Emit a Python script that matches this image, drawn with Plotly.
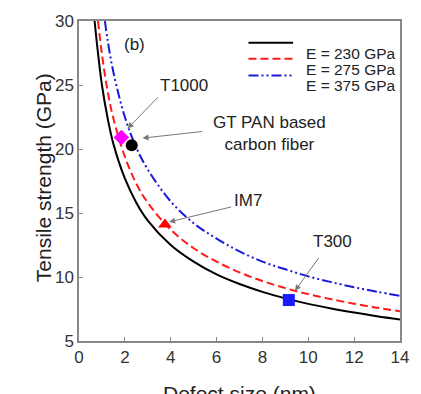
import plotly.graph_objects as go

# Defect size (nm) sample positions and tensile strength (GPa) for each modulus
size_230 = [0.68, 0.8, 1.0, 1.25, 1.5, 2.0, 2.5, 3.0, 4.0, 5.0, 6.0, 7.0, 8.0, 9.0, 10.0, 11.0, 12.0, 13.0, 14.0]
strength_230 = [30.0, 27.95, 25.0, 22.4, 20.4, 17.7, 15.8, 14.4, 12.5, 11.2, 10.2, 9.45, 8.84, 8.33, 7.9, 7.54, 7.22, 6.93, 6.68]

size_275 = [0.83, 1.0, 1.25, 1.5, 2.0, 2.5, 3.0, 4.0, 5.0, 6.0, 7.0, 8.0, 9.0, 10.0, 11.0, 12.0, 13.0, 14.0]
strength_275 = [30.0, 27.4, 24.5, 22.4, 19.4, 17.3, 15.8, 13.7, 12.25, 11.2, 10.36, 9.69, 9.13, 8.66, 8.26, 7.91, 7.6, 7.32]

size_375 = [1.13, 1.25, 1.5, 2.0, 2.5, 3.0, 4.0, 5.0, 6.0, 7.0, 8.0, 9.0, 10.0, 11.0, 12.0, 13.0, 14.0]
strength_375 = [30.0, 28.5, 26.0, 22.5, 20.1, 18.4, 15.9, 14.2, 13.0, 12.0, 11.2, 10.6, 10.05, 9.6, 9.2, 8.85, 8.53]

series_names = ["E = 230 GPa", "E = 275 GPa", "E = 375 GPa"]

# Commercial fibers
fiber_names = ["T1000", "GT PAN based<br>carbon fiber", "IM7", "T300"]
fiber_size = [1.85, 2.3, 3.75, 9.15]
fiber_strength = [20.9, 20.3, 14.1, 8.2]
fiber_symbols = ["diamond", "circle", "triangle-up", "square"]
fiber_colors = ["#ff00ff", "#000000", "#ff0000", "#1a1aff"]

# Label placement: text centre, arrow tail, arrow head (data units)
label_pos = [(4.58, 25.0), (8.3, 21.2), (7.39, 16.0), (11.06, 12.77)]
arrow_tail = [(3.5, 24.15), (5.44, 21.38), (6.7, 15.5), (10.5, 11.6)]
arrow_head = [(2.12, 21.6), (2.77, 20.85), (3.93, 14.3), (9.42, 8.92)]

FONT = "Liberation Sans, Arial, sans-serif"

styles = [
    dict(color="#000000", width=2),
    dict(color="#ff1a1a", width=2, dash="8px,4px"),
    dict(color="#1a1ad9", width=2, dash="10px,3px,2px,3px,2px,3px"),
]

fig = go.Figure()
for sx, sy, nm, st in zip([size_230, size_275, size_375],
                          [strength_230, strength_275, strength_375],
                          series_names, styles):
    fig.add_trace(go.Scatter(x=sx, y=sy, mode="lines", name=nm, showlegend=False,
                             line=dict(shape="spline", **st)))

for sx, sy, sym, col in zip(fiber_size, fiber_strength, fiber_symbols, fiber_colors):
    fig.add_trace(go.Scatter(x=[sx], y=[sy], mode="markers", showlegend=False,
                             marker=dict(symbol=sym, color=col, size=12, line=dict(width=0))))

for name, (tx, ty), (ax, ay), (hx, hy) in zip(fiber_names, label_pos, arrow_tail, arrow_head):
    fig.add_annotation(x=tx, y=ty, text=name, showarrow=False,
                       font=dict(family=FONT, size=17, color="#222222"))
    fig.add_annotation(x=hx, y=hy, ax=ax, ay=ay, axref="x", ayref="y", text="",
                       showarrow=True, arrowhead=2, arrowsize=1.2, arrowwidth=1,
                       arrowcolor="#777777")

fig.add_annotation(x=2.42, y=28.15, text="(b)", showarrow=False,
                   font=dict(family=FONT, size=17, color="#222222"))

# Legend: line sample plus label, stacked in the upper right corner
legend_rows = [0.932, 0.882, 0.830]
for nm, st, ry in zip(series_names, styles, legend_rows):
    fig.add_shape(type="line", xref="paper", yref="paper",
                  x0=0.528, x1=0.667, y0=ry, y1=ry, line=st)
    fig.add_annotation(xref="paper", yref="paper", x=0.700, y=ry, xanchor="left",
                       text=nm, showarrow=False,
                       font=dict(family=FONT, size=15.5, color="#222222"))

# Axis titles
fig.add_annotation(xref="paper", yref="paper", x=0.5, y=-0.123, yanchor="top",
                   text="Defect size (nm)", showarrow=False,
                   font=dict(family=FONT, size=21, color="#222222"))
fig.add_annotation(xref="paper", yref="paper", x=-0.154, y=0.509, textangle=-90,
                   text="Tensile strength (GPa)", showarrow=False,
                   font=dict(family=FONT, size=21, color="#222222"))

axis_common = dict(showgrid=False, zeroline=False, showline=True, linecolor="#888888",
                   linewidth=1.5, mirror=True, ticks="inside", ticklen=4,
                   tickcolor="#888888", tickfont=dict(family=FONT, size=17, color="#333333"))

fig.update_xaxes(range=[0, 14], tickvals=[0, 2, 4, 6, 8, 10, 12, 14], **axis_common)
fig.update_yaxes(range=[5, 30], tickvals=[5, 10, 15, 20, 25, 30], **axis_common)

fig.update_layout(
    width=421, height=394,
    margin=dict(l=79, r=18, t=16, b=53),
    paper_bgcolor="white", plot_bgcolor="white",
    showlegend=False,
)

fig.write_html("out.html")
